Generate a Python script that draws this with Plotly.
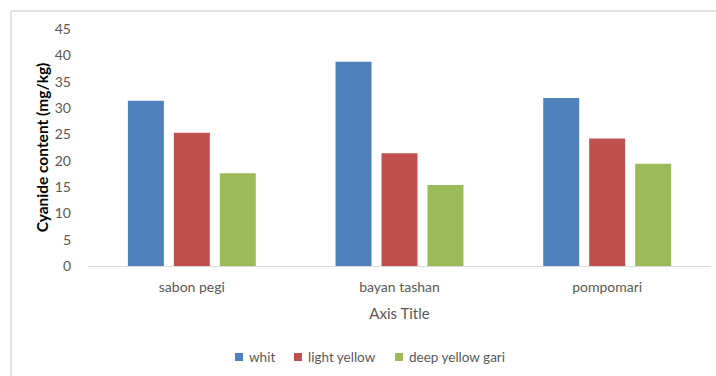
import plotly.graph_objects as go

# Cyanide content by processing location and gari colour
locations = ["sabon pegi", "bayan tashan", "pompomari"]
whit = [31.4, 38.8, 31.9]
light_yellow = [25.3, 21.4, 24.2]
deep_yellow_gari = [17.6, 15.4, 19.4]
y_ticks = [0, 5, 10, 15, 20, 25, 30, 35, 40, 45]

series = [
    ("whit", whit, "#4F81BD"),
    ("light yellow", light_yellow, "#C0504D"),
    ("deep yellow gari", deep_yellow_gari, "#9BBB59"),
]

FONT = "Lato, Open Sans, sans-serif"
TICK_GREY = "#595959"
BORDER = "#D9D9D9"

W, H = 716, 376
ML, MR, MT, MB = 88, 5, 29, 110
PW, PH = W - ML - MR, H - MT - MB


def px_x(x):
    return (x - ML) / PW


def px_y(y):
    return (H - MB - y) / PH


fig = go.Figure()
for name, vals, color in series:
    fig.add_trace(go.Bar(name=name, x=locations, y=vals, showlegend=False,
                         marker=dict(color=color, line=dict(width=0))))

# legend drawn as swatches + labels below the axis title
legend_x = [235, 294, 395]
shapes = []
annotations = []
for (name, _, color), lx in zip(series, legend_x):
    shapes.append(dict(type="rect", xref="paper", yref="paper",
                       x0=px_x(lx), x1=px_x(lx + 8), y0=px_y(361), y1=px_y(353),
                       fillcolor=color, line=dict(width=0)))
    annotations.append(dict(xref="paper", yref="paper", x=px_x(lx + 12), y=px_y(357),
                            xanchor="left", yanchor="middle", showarrow=False,
                            text=name, font=dict(size=13.5, color=TICK_GREY, family=FONT)))

# chart-area border (left and top edges)
shapes += [
    dict(type="line", xref="paper", yref="paper", x0=px_x(11), x1=px_x(W + 5),
         y0=px_y(11), y1=px_y(11), line=dict(color=BORDER, width=1.5)),
    dict(type="line", xref="paper", yref="paper", x0=px_x(11), x1=px_x(11),
         y0=px_y(H + 5), y1=px_y(11), line=dict(color=BORDER, width=1.5)),
]

fig.update_layout(
    width=W, height=H,
    margin=dict(l=ML, r=MR, t=MT, b=MB),
    paper_bgcolor="white", plot_bgcolor="white",
    barmode="group", bargap=0.336, bargroupgap=0.217,
    font=dict(family=FONT, color=TICK_GREY, size=12),
    xaxis=dict(showgrid=False, showline=True, linecolor=BORDER, linewidth=1,
               ticks="", ticklabelstandoff=8,
               tickfont=dict(size=14, color=TICK_GREY),
               title=dict(text="Axis Title", font=dict(size=15, color=TICK_GREY), standoff=14)),
    yaxis=dict(range=[0, 45], tickvals=y_ticks, showgrid=False, zeroline=False,
               showline=False, ticks="", ticklabelstandoff=16,
               tickfont=dict(size=14, color=TICK_GREY),
               title=dict(text="<b>Cyanide content (mg/kg)</b>",
                          font=dict(size=15.5, color="black"), standoff=2)),
    shapes=shapes,
    annotations=annotations,
)

fig.write_html("out.html")
